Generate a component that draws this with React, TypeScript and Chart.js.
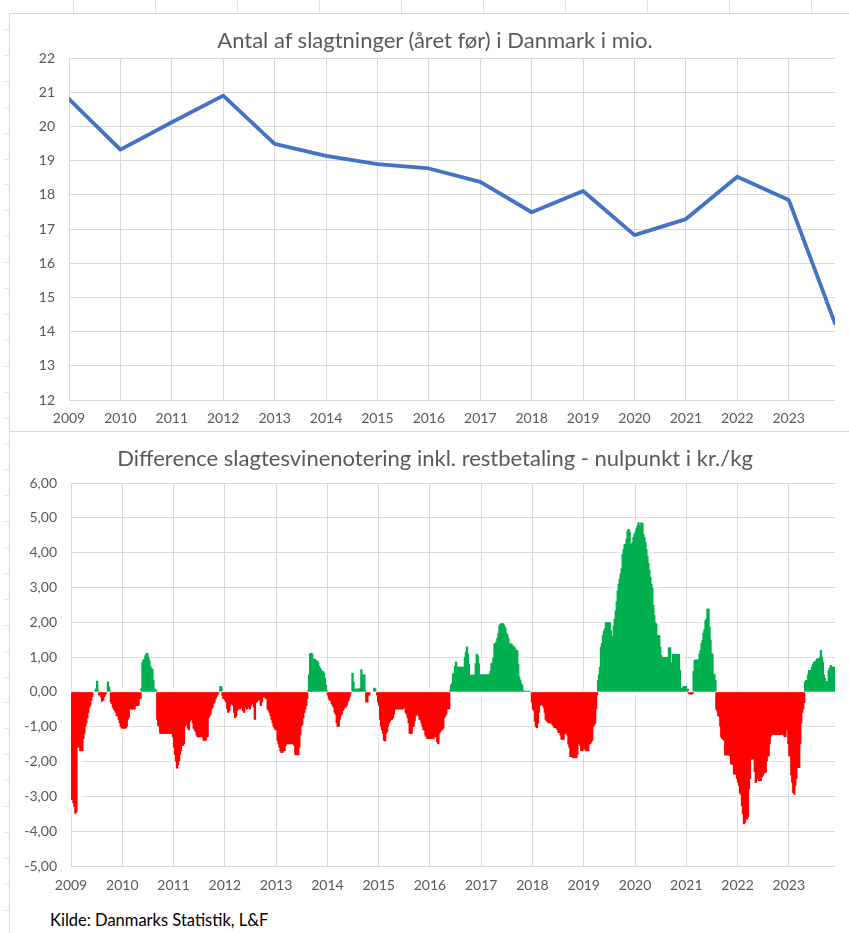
import { useEffect, useRef } from 'react';
import { Chart, registerables } from 'chart.js';

Chart.register(...registerables);

// ---------- data ----------
const TOP_TITLE = 'Antal af slagtninger (året før) i Danmark i mio.';
const BOTTOM_TITLE = 'Difference slagtesvinenotering inkl. restbetaling - nulpunkt i kr./kg';
const SOURCE = 'Kilde: Danmarks Statistik, L&F';

const YEAR_TICKS = [2009, 2010, 2011, 2012, 2013, 2014, 2015, 2016, 2017, 2018, 2019, 2020, 2021, 2022, 2023];
const X_MAX = 2023.9;

const SLAUGHTER_X = [2009, 2010, 2011, 2012, 2013, 2014, 2015, 2016, 2017, 2018, 2019, 2020, 2021, 2022, 2023, 2023.9];
const SLAUGHTER_MIO = [20.8, 19.32, 20.12, 20.9, 19.49, 19.14, 18.9, 18.77, 18.38, 17.49, 18.11, 16.82, 17.29, 18.53, 17.85, 14.24];

const DIFF_2009 = [-3.1, -3.1, -3.2, -3.3, -3.5, -3.45, -1.6, -1.55, -1.6, -1.7, -1.7, -1.7, -1.35, -1.2, -1.0, -0.9, -0.75, -0.6, -0.45, -0.4, -0.25, -0.15, 0, 0, 0.05, 0.1, 0.32, 0.05, -0.1, -0.1, -0.15, -0.28, -0.25, -0.15, -0.1, -0.05, 0, 0.3, 0.15, 0.05, -0.3, -0.35, -0.45, -0.5, -0.55, -0.6, -0.7, -0.65, -0.8, -0.9, -1.0, -1.05];
const DIFF_2010 = [-1.05, -1.05, -1.05, -1.05, -1.0, -0.8, -0.75, -0.5, -0.5, -0.5, -0.5, -0.5, -0.5, -0.4, -0.4, -0.4, -0.4, -0.2, -0.2, 0.1, 0.85, 0.93, 0.95, 1.05, 1.1, 1.12, 1.0, 0.9, 0.75, 0.68, 0.65, 0.35, 0.1, 0.08, 0.05, -0.8, -0.97, -1.0, -1.2, -1.2, -1.2, -1.2, -1.2, -1.2, -1.2, -1.2, -1.2, -1.2, -1.2, -1.2, -1.2, -1.3];
const DIFF_2011 = [-1.6, -1.8, -2.0, -2.2, -2.1, -2.0, -1.8, -1.7, -1.55, -1.55, -1.5, -1.0, -0.95, -0.95, -1.05, -1.1, -0.85, -0.8, -0.8, -0.9, -1.05, -1.1, -1.15, -1.25, -1.3, -1.3, -1.3, -1.3, -1.25, -1.3, -1.4, -1.4, -1.4, -1.3, -1.3, -0.75, -0.7, -0.65, -0.5, -0.45, -0.35, -0.3, -0.2, -0.15, -0.1, -0.05, 0, 0.17, 0.15, -0.1, -0.2, -0.2];
const DIFF_2012 = [-0.25, -0.3, -0.5, -0.6, -0.55, -0.4, -0.3, -0.35, -0.4, -0.6, -0.75, -0.7, -0.55, -0.5, -0.45, -0.5, -0.45, -0.4, -0.55, -0.6, -0.45, -0.4, -0.5, -0.4, -0.45, -0.5, -0.4, -0.35, -0.3, -0.45, -0.8, -0.3, -0.3, -0.2, -0.25, -0.2, -0.4, -0.3, -0.15, -0.15, -0.15, -0.2, -0.2, -0.5, -0.55, -0.6, -0.7, -0.8, -0.9, -1.0, -1.05, -1.1];
const DIFF_2013 = [-1.1, -1.4, -1.5, -1.6, -1.7, -1.75, -1.75, -1.7, -1.7, -1.55, -1.5, -1.5, -1.5, -1.5, -1.5, -1.5, -1.5, -1.5, -1.55, -1.8, -1.82, -1.8, -1.82, -1.6, -1.25, -1.0, -0.95, -0.75, -0.6, -0.5, -0.4, -0.2, 0.05, 0.5, 1.1, 1.12, 1.1, 0.95, 0.95, 0.95, 0.9, 0.9, 0.85, 0.75, 0.7, 0.65, 0.6, 0.6, 0.55, 0.4, 0.2, 0.05];
const DIFF_2014 = [-0.1, -0.2, -0.25, -0.25, -0.35, -0.4, -0.45, -0.6, -0.65, -0.9, -1.0, -1.0, -0.8, -0.7, -0.65, -0.55, -0.5, -0.45, -0.45, -0.4, -0.3, -0.25, -0.15, -0.05, 0, 0.55, 0.3, 0.1, 0.05, 0.08, 0.1, 0.05, 0.1, 0.1, 0.65, 0.5, 0.1, 0.5, 0.05, -0.3, -0.3, -0.1, -0.1, 0, 0, 0, 0, 0.12, 0.1, 0, -0.1, -0.3];
const DIFF_2015 = [-0.4, -0.8, -1.0, -1.1, -1.2, -1.4, -1.42, -1.2, -1.15, -1.0, -0.9, -0.85, -0.8, -0.8, -0.75, -0.65, -0.5, -0.5, -0.5, -0.5, -0.5, -0.5, -0.5, -0.5, -0.5, -0.45, -0.45, -0.6, -0.65, -0.75, -0.9, -1.2, -1.2, -1.2, -1.0, -1.0, -0.85, -0.7, -0.65, -0.65, -0.7, -0.8, -0.8, -0.9, -1.0, -1.1, -1.1, -1.25, -1.3, -1.35, -1.35, -1.35];
const DIFF_2016 = [-1.35, -1.35, -1.35, -1.35, -1.3, -1.3, -1.3, -1.45, -1.5, -1.2, -1.15, -1.1, -1.1, -1.05, -0.75, -0.7, -0.65, -0.5, -0.3, -0.5, 0.05, 0.2, 0.25, 0.53, 0.55, 0.75, 0.87, 0.72, 0.72, 0.72, 0.72, 0.72, 0.72, 0.72, 0.72, 1.0, 1.15, 1.3, 1.1, 0.8, 0.49, 0.49, 0.49, 0.49, 0.49, 0.5, 0.82, 1.09, 1.05, 0.82, 0.5, 0.49];
const DIFF_2017 = [0.5, 0.5, 0.5, 0.5, 0.5, 0.5, 0.5, 0.5, 0.52, 0.6, 0.82, 0.85, 1.0, 1.39, 1.4, 1.45, 1.55, 1.68, 1.9, 1.96, 1.96, 1.98, 1.96, 1.9, 1.85, 1.7, 1.65, 1.55, 1.39, 1.39, 1.39, 1.35, 1.3, 1.3, 1.25, 1.2, 1.2, 0.8, 0.44, 0.35, 0.25, 0.2, 0.05, 0.03, 0.03, 0.03, 0.03, 0.03, 0.03, 0.03, 0, -0.3];
const DIFF_2018 = [-0.5, -0.55, -0.85, -1.0, -1.04, -0.9, -0.6, -0.4, -0.37, -0.37, -0.4, -0.45, -0.6, -0.8, -0.85, -0.85, -0.9, -0.9, -0.9, -0.9, -0.95, -1.0, -1.04, -1.04, -1.04, -1.1, -1.18, -1.18, -1.25, -1.37, -1.37, -1.37, -1.2, -1.2, -1.15, -1.25, -1.51, -1.6, -1.87, -1.87, -1.88, -1.9, -1.9, -1.9, -1.9, -1.8, -1.5, -1.47, -1.55, -1.7, -1.7, -1.65];
const DIFF_2019 = [-1.65, -1.65, -1.7, -1.7, -1.7, -1.5, -1.5, -1.45, -1.4, -1.0, -0.95, -0.9, -0.5, -0.1, 0.34, 0.5, 0.72, 1.3, 1.4, 1.63, 1.75, 1.82, 2.0, 2.0, 2.0, 2.0, 2.0, 1.77, 1.6, 1.44, 1.9, 2.1, 2.34, 2.6, 2.91, 3.1, 3.25, 3.4, 3.55, 3.96, 4.1, 4.25, 4.25, 4.4, 4.63, 4.68, 4.6, 4.25, 4.25, 4.3, 4.45, 4.53];
const DIFF_2020 = [4.6, 4.7, 4.78, 4.87, 4.82, 4.72, 4.87, 4.85, 4.53, 4.45, 4.3, 4.1, 3.9, 3.7, 3.5, 3.3, 3.1, 3.0, 2.5, 2.2, 2.0, 1.96, 1.63, 1.63, 1.63, 1.3, 1.06, 1.0, 1.0, 1.0, 1.0, 1.0, 1.0, 1.0, 1.28, 1.28, 0.84, 0.84, 1.09, 1.09, 1.09, 1.09, 1.09, 1.09, 1.09, 0.63, 0.1, 0.12, 0.12, 0.17, 0.17, 0.17];
const DIFF_2021 = [0.09, 0.09, -0.05, -0.07, -0.07, -0.07, -0.05, 0.6, 0.91, 0.93, 0.93, 0.93, 0.93, 1.1, 1.2, 1.4, 1.49, 1.7, 1.8, 2.05, 2.1, 2.39, 2.39, 1.87, 1.5, 1.1, 1.1, 0.53, 0.5, 0.34, -0.5, -0.56, -0.7, -0.7, -1.0, -1.3, -1.35, -1.37, -1.4, -1.82, -1.82, -1.82, -1.82, -1.82, -1.85, -2.08, -2.08, -2.1, -2.37, -2.37, -2.37, -2.5];
const DIFF_2022 = [-2.6, -2.7, -2.91, -2.95, -3.28, -3.5, -3.8, -3.75, -3.66, -3.66, -3.6, -2.8, -2.5, -1.94, -1.94, -1.94, -1.85, -2.3, -2.61, -2.5, -2.5, -2.56, -2.56, -2.56, -2.45, -2.42, -2.35, -2.32, -2.32, -2.0, -1.85, -1.85, -1.5, -1.28, -1.23, -1.23, -1.23, -1.23, -1.23, -1.23, -1.23, -1.23, -1.23, -1.23, -1.23, -1.23, -1.2, -1.28, -1.3, -1.1, -1.09, -1.5];
const DIFF_2023 = [-1.85, -1.85, -2.4, -2.61, -2.9, -2.95, -2.7, -2.5, -2.18, -2.18, -2.18, -1.5, -0.9, -0.6, -0.5, -0.32, 0.3, 0.34, 0.34, 0.5, 0.63, 0.63, 0.63, 0.72, 0.8, 0.87, 0.87, 0.9, 0.96, 0.96, 0.96, 1.0, 1.2, 1.0, 0.87, 0.49, 0.4, 0.3, 0.3, 0.3, 0.63, 0.7, 0.77, 0.72, 0.72, 0.72, 0.72];

const DIFF_BY_YEAR = [DIFF_2009, DIFF_2010, DIFF_2011, DIFF_2012, DIFF_2013, DIFF_2014, DIFF_2015, DIFF_2016, DIFF_2017, DIFF_2018, DIFF_2019, DIFF_2020, DIFF_2021, DIFF_2022, DIFF_2023];
const WEEKS_PER_YEAR = 52;

// ---------- styles ----------
const FONT = 'Lato, "Open Sans", sans-serif';
const TEXT = '#595959';
const GRID = '#d9d9d9';
const RED = '#FF0000';
const GREEN = '#00B050';
const BLUE = '#4472C4';
const TICK_FONT = { family: FONT, size: 14 };

const fmtDa = (v: number) => v.toFixed(2).replace('.', ',');

const glowPlugin = {
  id: 'barGlow',
  beforeDatasetsDraw(chart: any) {
    const meta = chart.getDatasetMeta(0);
    const ctx = chart.ctx;
    ctx.save();
    ctx.beginPath();
    meta.data.forEach((el: any) => {
      const p = el.getProps(['x', 'y', 'base', 'width'], true);
      const top = Math.min(p.y, p.base);
      const h = Math.abs(p.y - p.base);
      ctx.rect(p.x - p.width / 2, top, p.width, h);
    });
    ctx.fillStyle = '#ffffff';
    ctx.shadowColor = '#ffffff';
    ctx.shadowBlur = 9;
    ctx.fill();
    ctx.fill();
    ctx.fill();
    ctx.restore();
  },
};

function xScale(height: number, pad: number) {
  return {
    type: 'linear' as const,
    min: 2009,
    max: X_MAX,
    offset: false,
    afterBuildTicks: (s: any) => {
      s.ticks = YEAR_TICKS.map((v) => ({ value: v }));
    },
    afterFit: (s: any) => {
      s.height = height;
    },
    ticks: {
      autoSkip: false,
      maxRotation: 0,
      color: TEXT,
      font: TICK_FONT,
      padding: pad,
      callback: (v: any) => String(v),
    },
    grid: { color: GRID, drawTicks: false, offset: false },
    border: { display: false },
  };
}

function TopChart() {
  const ref = useRef<HTMLCanvasElement>(null);
  useEffect(() => {
    const chart = new Chart(ref.current!, {
      type: 'line',
      data: {
        datasets: [
          {
            data: SLAUGHTER_X.map((x, i) => ({ x, y: SLAUGHTER_MIO[i] })),
            borderColor: BLUE,
            borderWidth: 3.8,
            pointRadius: 0,
            tension: 0,
            fill: false,
            borderJoinStyle: 'round',
            borderCapStyle: 'round',
          },
        ],
      },
      options: {
        responsive: false,
        animation: false,
        devicePixelRatio: 1,
        layout: { padding: { top: 44, right: 14, left: 0, bottom: 0 } },
        plugins: { legend: { display: false }, tooltip: { enabled: false }, title: { display: false } },
        scales: {
          x: xScale(30, 10) as any,
          y: {
            min: 12,
            max: 22,
            afterFit: (s: any) => {
              s.width = 59;
            },
            ticks: { stepSize: 1, color: TEXT, font: TICK_FONT, padding: 14, callback: (v: any) => String(v) },
            grid: { color: GRID, drawTicks: false },
            border: { display: false },
          },
        },
      },
    });
    return () => chart.destroy();
  }, []);
  return <canvas ref={ref} width={839} height={416} />;
}

function BottomChart() {
  const ref = useRef<HTMLCanvasElement>(null);
  useEffect(() => {
    const points: { x: number; y: number }[] = [];
    DIFF_BY_YEAR.forEach((arr, yi) => {
      arr.forEach((v, wi) => {
        points.push({ x: YEAR_TICKS[yi] + (wi + 0.5) / WEEKS_PER_YEAR, y: v });
      });
    });
    const chart = new Chart(ref.current!, {
      type: 'bar',
      data: {
        datasets: [
          {
            data: points,
            backgroundColor: points.map((p) => (p.y < 0 ? RED : GREEN)),
            borderWidth: 0,
            barPercentage: 2.4,
            categoryPercentage: 1,
          },
        ],
      },
      options: {
        responsive: false,
        animation: false,
        devicePixelRatio: 1,
        layout: { padding: { top: 51, right: 14, left: 0, bottom: 0 } },
        plugins: { legend: { display: false }, tooltip: { enabled: false }, title: { display: false } },
        scales: {
          x: xScale(34, 11) as any,
          y: {
            min: -5,
            max: 6,
            afterFit: (s: any) => {
              s.width = 61;
            },
            ticks: { stepSize: 1, color: TEXT, font: TICK_FONT, padding: 14, callback: (v: any) => fmtDa(Number(v)) },
            grid: { color: GRID, drawTicks: false },
            border: { display: false },
          },
        },
      },
      plugins: [glowPlugin],
    });
    return () => chart.destroy();
  }, []);
  return <canvas ref={ref} width={839} height={468} />;
}

const SHEET = '#e3e3e3';
const COL_LINES = [73, 155, 237, 319, 401, 483, 565, 647, 729, 811];
const ROW_MARKS = Array.from({ length: 36 }, (_, i) => 29 + i * 25.9);

const titleStyle = (top: number) => ({
  position: 'absolute' as const,
  left: 0,
  width: 870,
  top,
  lineHeight: '26px',
  fontSize: 22,
  color: TEXT,
  textAlign: 'center' as const,
  whiteSpace: 'nowrap' as const,
});

export default function App() {
  return (
    <div
      style={{
        position: 'absolute',
        left: 0,
        top: 0,
        width: 849,
        height: 933,
        overflow: 'hidden',
        background: '#ffffff',
        fontFamily: FONT,
      }}
    >
      {COL_LINES.map((x) => (
        <div key={'c' + x} style={{ position: 'absolute', left: x, top: 0, width: 1, height: 13, background: SHEET }} />
      ))}
      {ROW_MARKS.map((y) => (
        <div key={'r' + y} style={{ position: 'absolute', left: 5, top: Math.round(y), width: 4, height: 1, background: SHEET }} />
      ))}
      <div style={{ position: 'absolute', left: 9, top: 13, width: 840, height: 1, background: GRID }} />
      <div style={{ position: 'absolute', left: 9, top: 13, width: 1, height: 920, background: GRID }} />
      <div style={{ position: 'absolute', left: 9, top: 431, width: 840, height: 1, background: GRID }} />

      <div style={{ position: 'absolute', left: 10, top: 14 }}>
        <TopChart />
      </div>
      <div style={{ position: 'absolute', left: 10, top: 432 }}>
        <BottomChart />
      </div>

      <div style={titleStyle(27)}>{TOP_TITLE}</div>
      <div style={titleStyle(445)}>{BOTTOM_TITLE}</div>
      <div
        style={{
          position: 'absolute',
          left: 50,
          top: 910,
          lineHeight: '20px',
          fontSize: 16.5,
          color: '#000000',
          whiteSpace: 'nowrap',
        }}
      >
        {SOURCE}
      </div>
    </div>
  );
}
